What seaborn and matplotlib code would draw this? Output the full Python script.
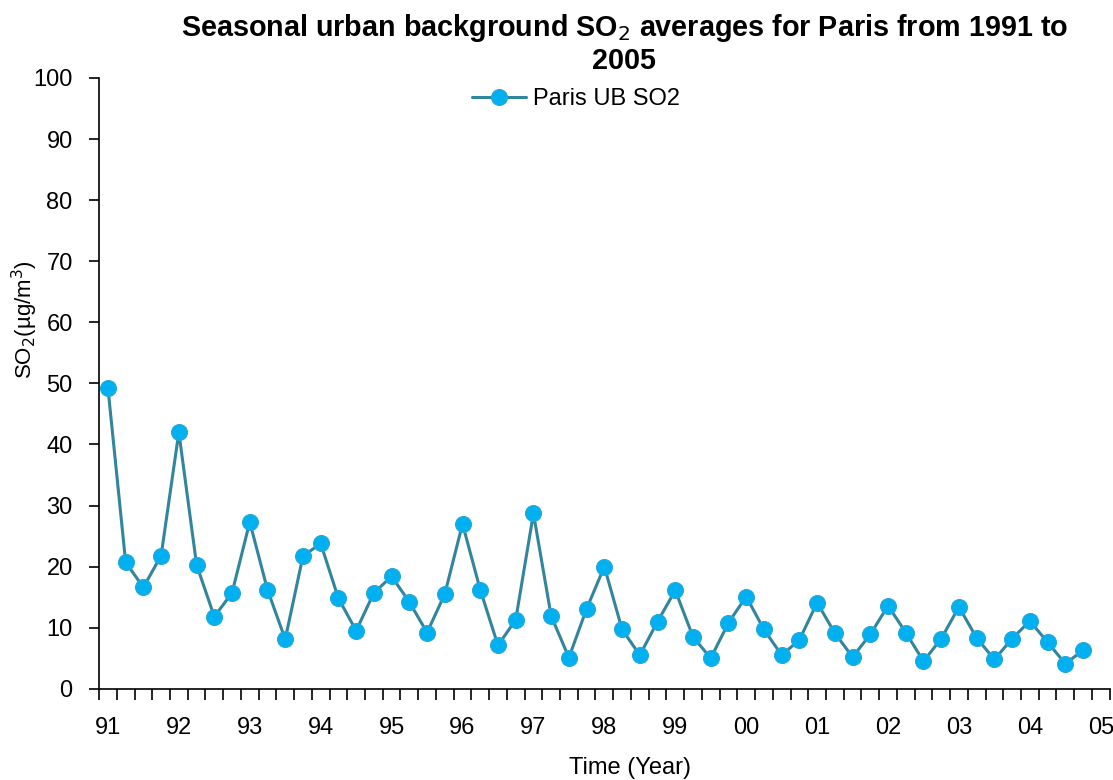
import pandas as pd
import matplotlib
matplotlib.use("Agg")
import matplotlib.pyplot as plt
import seaborn as sns

# ==================================================
#* Dados (médias sazonais, 4 por ano)
# ==================================================
year_labels = ["91", "92", "93", "94", "95", "96", "97", "98",
               "99", "00", "01", "02", "03", "04", "05"]

so2_values = [
    49.3, 20.7, 16.6, 21.8,
    42.0, 20.3, 11.8, 15.7,
    27.3, 16.2, 8.1, 21.7,
    23.8, 14.8, 9.5, 15.7,
    18.4, 14.2, 9.2, 15.5,
    27.0, 16.2, 7.1, 11.3,
    28.7, 11.9, 5.1, 13.1,
    20.0, 9.7, 5.5, 11.0,
    16.1, 8.5, 5.0, 10.8,
    15.1, 9.7, 5.5, 8.0,
    14.1, 9.1, 5.2, 8.9,
    13.6, 9.2, 4.5, 8.2,
    13.4, 8.3, 4.8, 8.2,
    11.1, 7.6, 4.1, 6.3,
]

df = pd.DataFrame({"idx": range(len(so2_values)), "SO2": so2_values})

# ==================================================
#* Configuração visual
# ==================================================
sns.set_style("white")
plt.rcParams["font.family"] = ["Liberation Sans", "DejaVu Sans"]
plt.rcParams["text.color"] = "black"
plt.rcParams["axes.labelcolor"] = "black"
plt.rcParams["xtick.color"] = "black"
plt.rcParams["ytick.color"] = "black"

fig = plt.figure(figsize=(11.13, 7.8), dpi=100)
ax = fig.add_axes([0.089, 0.117, 0.908, 0.783])

sns.lineplot(
    data=df, x="idx", y="SO2", ax=ax,
    color="#31859C", linewidth=2.2,
    marker="o", markersize=11.5,
    markerfacecolor="#00B0F0", markeredgecolor="#2AA7D6",
    label="Paris UB SO2"
)

n_cat = len(year_labels) * 4 - 3  # categoria extra para o rótulo "05"
ax.set_xlim(-0.5, n_cat - 0.5)
ax.set_ylim(0, 100)

ax.set_xticks(range(0, n_cat, 4))
ax.set_xticklabels(year_labels)
ax.set_xticks([i - 0.5 for i in range(n_cat + 1)], minor=True)
ax.tick_params(axis="x", which="major", bottom=True, length=0, pad=20, labelsize=17)
ax.tick_params(axis="x", which="minor", bottom=True, length=8, width=1.2, direction="out")

ax.set_yticks(range(0, 101, 10))
ax.tick_params(axis="y", which="major", left=True, length=7, width=1.2,
               direction="out", labelsize=17, pad=12)

for side in ["top", "right"]:
    ax.spines[side].set_visible(False)
for side in ["left", "bottom"]:
    ax.spines[side].set_color("black")
    ax.spines[side].set_linewidth(1.2)

ax.set_xlabel("Time (Year)", fontsize=17)
ax.xaxis.set_label_coords(0.525, -0.111)
ax.set_ylabel("SO$_2$(µg/m$^3$)", fontsize=16, va="center")
ax.yaxis.set_label_coords(-0.073, 0.604)

fig.suptitle("Seasonal urban background SO$_2$ averages for Paris from 1991 to\n2005",
             x=0.561, y=0.985, fontsize=20.7, fontweight="bold", linespacing=1.15)

ax.legend(loc="center", bbox_to_anchor=(0.472, 0.966), frameon=False,
          fontsize=17, handlelength=2.3, handletextpad=0.3)

fig.savefig("out.png", dpi=100)
